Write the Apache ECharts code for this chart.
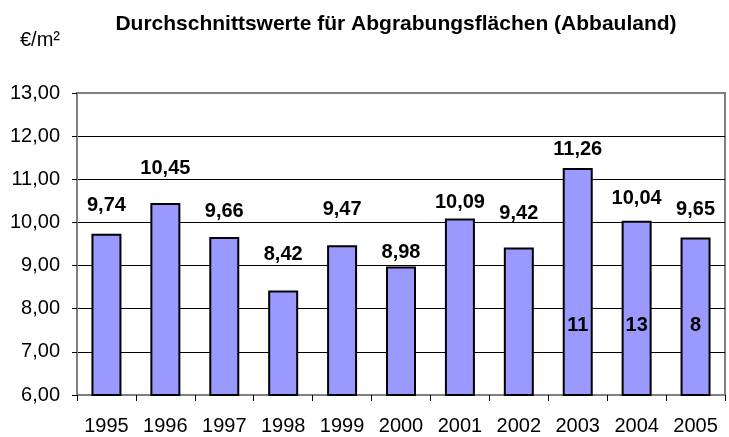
<!DOCTYPE html>
<html>
<head>
<meta charset="utf-8">
<script src="https://cdn.jsdelivr.net/npm/echarts@6/dist/echarts.min.js"></script>
<style>
  html, body { margin: 0; padding: 0; background: #fff; }
  #chart { width: 729px; height: 437px; }
</style>
</head>
<body>
<div id="chart"></div>
<script>
// Daten
const years = ['1995', '1996', '1997', '1998', '1999', '2000', '2001', '2002', '2003', '2004', '2005']
const prices = [9.74, 10.45, 9.66, 8.42, 9.47, 8.98, 10.09, 9.42, 11.26, 10.04, 9.65]
const counts = [null, null, null, null, null, null, null, null, 11, 13, 8]

// Abstand der Wertbeschriftung über dem Balken (Layout, nicht Daten)
const labelLift = [18, 25, 16, 26, 26, 4, 6, 24, 9, 12, 18]

const font = 'Liberation Sans, Arial, sans-serif'
const fmt = v => v.toFixed(2).replace('.', ',')

const chart = echarts.init(document.getElementById('chart'))

chart.setOption({
  animation: false,
  title: [
    {
      text: 'Durchschnittswerte für Abgrabungsflächen (Abbauland)',
      left: 391, top: 9, textAlign: 'center',
      textStyle: {fontFamily: font, fontSize: 21, fontWeight: 'bold', color: '#000'}
    },
    {
      text: '€/m²',
      left: 15, top: 25,
      textStyle: {fontFamily: font, fontSize: 20, fontWeight: 'normal', color: '#000'}
    }
  ],
  grid: {left: 77, right: 4, top: 93, bottom: 42, show: true, borderColor: '#808080', borderWidth: 2, containLabel: false},
  xAxis: {
    type: 'category',
    data: years,
    axisLine: {lineStyle: {color: '#808080', width: 2}},
    axisTick: {show: true, length: 6, lineStyle: {color: '#000', width: 1}},
    axisLabel: {fontFamily: font, fontSize: 20, color: '#000', margin: 21, interval: 0}
  },
  yAxis: {
    type: 'value',
    min: 6, max: 13, interval: 1,
    axisLine: {show: true, lineStyle: {color: '#808080', width: 2}},
    axisTick: {show: true, length: 5, lineStyle: {color: '#000', width: 1}},
    axisLabel: {fontFamily: font, fontSize: 20, color: '#000', margin: 17, formatter: fmt},
    splitLine: {show: true, showMinLine: false, showMaxLine: false, lineStyle: {color: '#000', width: 1}}
  },
  series: [
    {
      type: 'bar',
      barWidth: 30,
      data: prices.map((v, i) => ({
        value: v,
        label: {distance: labelLift[i]}
      })),
      itemStyle: {color: '#9999FF', borderColor: '#000', borderWidth: 2},
      label: {
        show: true, position: 'top',
        fontFamily: font, fontSize: 20, fontWeight: 'bold', color: '#000',
        formatter: p => fmt(p.value)
      }
    },
    {
      // Anzahl der Kauffälle, im Balken angezeigt
      type: 'bar',
      barWidth: 30,
      barGap: '-100%',
      silent: true,
      data: prices.map((v, i) => (counts[i] == null ? null : {value: v, count: counts[i]})),
      itemStyle: {color: 'rgba(0,0,0,0)'},
      label: {
        show: true, position: 'insideBottom', distance: 60,
        fontFamily: font, fontSize: 20, fontWeight: 'bold', color: '#000',
        formatter: p => (p.data && p.data.count != null ? String(p.data.count) : '')
      }
    }
  ]
})
</script>
</body>
</html>
